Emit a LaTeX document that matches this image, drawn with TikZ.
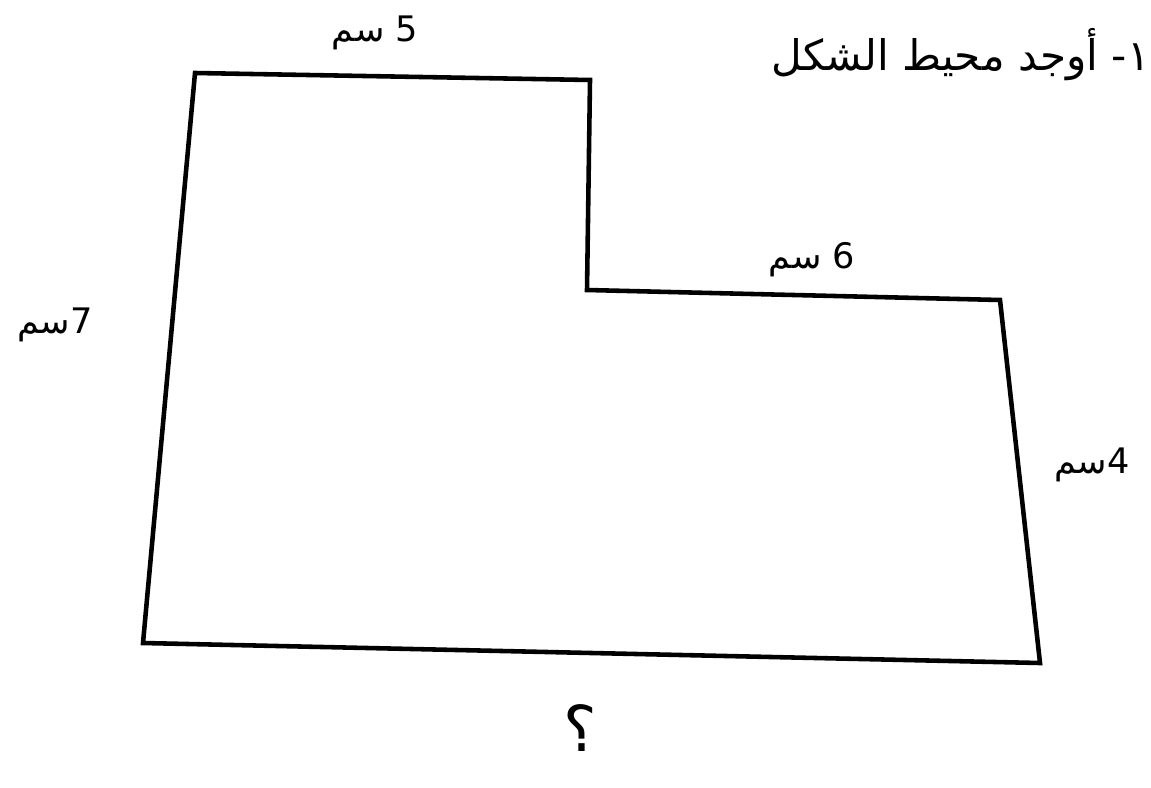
\documentclass[tikz,border=0pt]{standalone}
\usepackage{fontspec}
\newfontfamily\arabicfont[Script=Arabic]{DejaVu Sans}
\TeXXeTstate=1
\usetikzlibrary{positioning}

\begin{document}
\begin{tikzpicture}[x=0.02cm,y=-0.02cm,
  edge/.style={line width=2.6pt,line join=miter},
  lbl/.style={font=\arabicfont\fontsize{20}{24}\selectfont,inner sep=0pt}]
  \useasboundingbox[fill=white] (0,0) rectangle (1151,787);
  % corners of the shape
  \coordinate (tl) at (195,73);
  \coordinate (tr) at (590,80);
  \coordinate (nk) at (587,290);
  \coordinate (ni) at (1000,300);
  \coordinate (br) at (1040,663);
  \coordinate (bl) at (143,643);
  \draw[edge] (tl) -- (tr) -- (nk) -- (ni) -- (br) -- (bl) -- cycle;
  % side lengths
  \node[lbl] (top) at (375,33) {\beginR 5 سم\endR};
  \node[lbl] (mid) at (812,260) {\beginR 6 سم\endR};
  \node[lbl] (lft) at (55,325) {\beginR 7سم\endR};
  \node[lbl] (rgt) at (1092,465) {\beginR 4سم\endR};
  \node[lbl,font=\arabicfont\fontsize{36}{42}\selectfont] (qst) at (580,728) {\beginR ؟\endR};
  % task
  \node[lbl,font=\arabicfont\fontsize{24}{30}\selectfont,anchor=east] (task) at (1150,55) {\beginR ١- أوجد محيط الشكل\endR};
\end{tikzpicture}
\end{document}
